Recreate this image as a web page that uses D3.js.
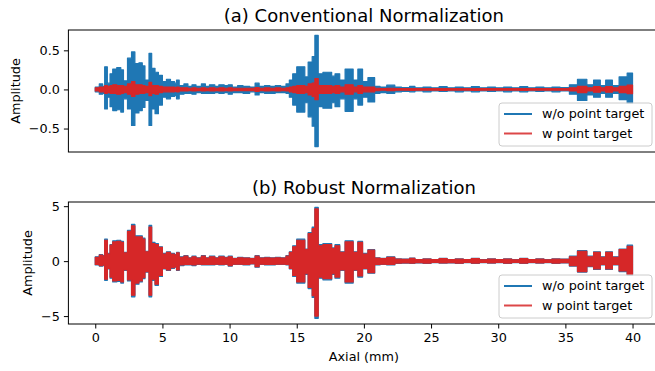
<!DOCTYPE html>
<html>
<head>
<meta charset="utf-8">
<script src="https://cdn.jsdelivr.net/npm/d3@7"></script>
<style>
  body { margin: 0; background: #fff; }
  svg { display: block; font-family: "DejaVu Sans", sans-serif; }
</style>
</head>
<body>
<svg id="chart" width="655" height="371"></svg>
<script>
// axial sample positions (mm), shared by every envelope below
const axial = [
  0, 0.3, 0.55, 0.7, 0.9, 1.1, 1.3, 1.6, 1.9, 2.1,
  2.4, 2.7, 2.95, 3.25, 3.5, 3.7, 4.0, 4.2, 4.45, 4.7,
  5.0, 5.3, 5.6, 5.9, 6.05, 6.25, 6.6, 6.9, 7.2, 7.5,
  7.9, 8.2, 8.5, 8.9, 9.2, 9.6, 9.9, 10.2, 10.6, 11.0,
  11.5, 11.9, 12.2, 12.6, 13.0, 13.4, 13.8, 14.2, 14.45, 14.7,
  15.0, 15.6, 15.85, 16.15, 16.35, 16.6, 16.95, 17.6, 17.85, 18.2,
  18.6, 19.2, 19.55, 19.9, 20.3, 20.8, 21.2, 21.7, 22.3, 22.8,
  23.4, 23.8, 24.4, 25.0, 25.6, 26.2, 26.8, 27.4, 28.0, 28.6,
  29.2, 29.8, 30.4, 31.0, 31.6, 32.2, 32.8, 33.4, 34.0, 34.6,
  35.3, 35.9, 36.6, 37.1, 37.6, 38.0, 38.5, 39.0, 39.6, 40.0
];

// (a) conventional normalization, w/o point target: upper / lower envelope
const convNoTargetHi = [
  0.03, 0.07, 0.04, 0.29, 0.08, 0.20, 0.26, 0.28, 0.25, 0.11,
  0.40, 0.48, 0.33, 0.34, 0.30, 0.12, 0.46, 0.27, 0.22, 0.18,
  0.10, 0.13, 0.10, 0.08, 0.12, 0.05, 0.07, 0.04, 0.06, 0.04,
  0.07, 0.04, 0.06, 0.04, 0.06, 0.05, 0.06, 0.03, 0.05, 0.04,
  0.03, 0.08, 0.04, 0.05, 0.04, 0.05, 0.04, 0.07, 0.12, 0.20,
  0.29, 0.16, 0.35, 0.42, 0.69, 0.20, 0.22, 0.17, 0.20, 0.12,
  0.26, 0.12, 0.26, 0.10, 0.15, 0.04, 0.03, 0.055, 0.03, 0.025,
  0.04, 0.02, 0.03, 0.02, 0.035, 0.02, 0.03, 0.02, 0.035, 0.02,
  0.03, 0.02, 0.03, 0.02, 0.035, 0.02, 0.03, 0.02, 0.03, 0.025,
  0.06, 0.13, 0.06, 0.12, 0.05, 0.12, 0.05, 0.16, 0.21, 0.21
];
const convNoTargetLo = [
  -0.03, -0.06, -0.05, -0.25, -0.10, -0.22, -0.27, -0.26, -0.29, -0.12,
  -0.25, -0.46, -0.30, -0.27, -0.23, -0.14, -0.46, -0.25, -0.31, -0.20,
  -0.10, -0.12, -0.09, -0.08, -0.12, -0.06, -0.05, -0.05, -0.06, -0.04,
  -0.05, -0.05, -0.05, -0.04, -0.05, -0.04, -0.06, -0.04, -0.04, -0.05,
  -0.03, -0.07, -0.04, -0.05, -0.05, -0.04, -0.04, -0.05, -0.10, -0.20,
  -0.29, -0.17, -0.35, -0.47, -0.73, -0.22, -0.24, -0.17, -0.22, -0.12,
  -0.28, -0.12, -0.20, -0.10, -0.16, -0.05, -0.04, -0.05, -0.03, -0.025,
  -0.03, -0.02, -0.03, -0.02, -0.025, -0.02, -0.03, -0.02, -0.03, -0.02,
  -0.025, -0.02, -0.03, -0.02, -0.03, -0.02, -0.025, -0.02, -0.03, -0.02,
  -0.06, -0.14, -0.07, -0.10, -0.05, -0.10, -0.05, -0.13, -0.18, -0.18
];

// (a) conventional normalization, w point target
const convTargetHi = [
  0.02, 0.03, 0.03, 0.05, 0.04, 0.05, 0.06, 0.05, 0.05, 0.04,
  0.07, 0.10, 0.06, 0.06, 0.05, 0.04, 0.09, 0.05, 0.05, 0.04,
  0.03, 0.03, 0.03, 0.025, 0.03, 0.02, 0.02, 0.015, 0.02, 0.015,
  0.02, 0.015, 0.02, 0.015, 0.02, 0.015, 0.02, 0.015, 0.015, 0.015,
  0.015, 0.025, 0.015, 0.02, 0.015, 0.02, 0.015, 0.02, 0.03, 0.04,
  0.05, 0.04, 0.07, 0.08, 0.14, 0.05, 0.05, 0.04, 0.05, 0.03,
  0.06, 0.03, 0.05, 0.03, 0.03, 0.015, 0.01, 0.015, 0.01, 0.01,
  0.012, 0.01, 0.01, 0.01, 0.012, 0.01, 0.01, 0.01, 0.012, 0.01,
  0.01, 0.01, 0.01, 0.01, 0.012, 0.01, 0.01, 0.01, 0.01, 0.01,
  0.02, 0.04, 0.02, 0.035, 0.02, 0.035, 0.02, 0.04, 0.055, 0.055
];
const convTargetLo = [
  -0.02, -0.03, -0.03, -0.05, -0.04, -0.05, -0.05, -0.06, -0.05, -0.04,
  -0.06, -0.09, -0.06, -0.05, -0.05, -0.04, -0.08, -0.05, -0.06, -0.04,
  -0.03, -0.03, -0.03, -0.025, -0.03, -0.02, -0.02, -0.015, -0.02, -0.015,
  -0.02, -0.015, -0.02, -0.015, -0.02, -0.015, -0.02, -0.015, -0.015, -0.015,
  -0.015, -0.025, -0.015, -0.02, -0.015, -0.02, -0.015, -0.02, -0.03, -0.04,
  -0.05, -0.04, -0.07, -0.09, -0.13, -0.05, -0.05, -0.04, -0.05, -0.03,
  -0.06, -0.03, -0.05, -0.03, -0.03, -0.015, -0.01, -0.015, -0.01, -0.01,
  -0.012, -0.01, -0.01, -0.01, -0.012, -0.01, -0.01, -0.01, -0.012, -0.01,
  -0.01, -0.01, -0.01, -0.01, -0.012, -0.01, -0.01, -0.01, -0.01, -0.01,
  -0.02, -0.04, -0.02, -0.035, -0.02, -0.035, -0.02, -0.04, -0.055, -0.055
];

// (b) robust normalization, w/o point target
const robNoTargetHi = [
  0.4, 0.6, 0.5, 2.0, 0.7, 1.5, 1.85, 1.9, 1.8, 0.8,
  2.8, 3.35, 2.3, 2.3, 2.1, 0.9, 3.25, 1.7, 1.6, 1.3,
  0.7, 0.85, 0.7, 0.6, 0.8, 0.4, 0.5, 0.3, 0.45, 0.3,
  0.5, 0.3, 0.45, 0.3, 0.45, 0.35, 0.45, 0.25, 0.35, 0.3,
  0.25, 0.5, 0.3, 0.35, 0.3, 0.35, 0.3, 0.5, 0.85, 1.4,
  2.0, 1.1, 2.6, 3.1, 4.9, 1.5, 1.6, 1.2, 1.5, 0.85,
  1.85, 0.85, 1.8, 0.7, 1.05, 0.3, 0.25, 0.4, 0.2, 0.18,
  0.28, 0.15, 0.2, 0.15, 0.25, 0.15, 0.2, 0.15, 0.25, 0.14,
  0.2, 0.15, 0.2, 0.14, 0.25, 0.15, 0.2, 0.14, 0.2, 0.18,
  0.45, 0.95, 0.45, 0.85, 0.4, 0.85, 0.4, 1.1, 1.45, 1.45
];
const robNoTargetLo = [
  -0.35, -0.45, -0.4, -1.75, -0.7, -1.55, -1.9, -1.85, -2.0, -0.85,
  -1.8, -3.25, -2.1, -1.9, -1.6, -1.0, -3.25, -1.75, -2.2, -1.4,
  -0.7, -0.85, -0.65, -0.55, -0.85, -0.4, -0.35, -0.35, -0.4, -0.3,
  -0.35, -0.35, -0.35, -0.3, -0.35, -0.3, -0.45, -0.3, -0.3, -0.35,
  -0.25, -0.55, -0.3, -0.35, -0.35, -0.3, -0.3, -0.35, -0.7, -1.4,
  -2.0, -1.2, -2.5, -3.3, -5.2, -1.55, -1.7, -1.2, -1.55, -0.85,
  -2.0, -0.85, -1.45, -0.7, -1.1, -0.35, -0.3, -0.35, -0.2, -0.18,
  -0.2, -0.15, -0.2, -0.14, -0.18, -0.15, -0.2, -0.14, -0.2, -0.14,
  -0.18, -0.14, -0.2, -0.14, -0.2, -0.14, -0.18, -0.14, -0.2, -0.15,
  -0.45, -1.0, -0.5, -0.75, -0.35, -0.75, -0.35, -0.95, -1.3, -1.3
];

// (b) robust normalization, w point target
const robTargetHi = [
  0.35, 0.55, 0.45, 1.9, 0.65, 1.45, 1.75, 1.8, 1.7, 0.75,
  2.7, 3.2, 2.2, 2.2, 2.0, 0.85, 3.1, 1.6, 1.5, 1.25,
  0.65, 0.8, 0.65, 0.55, 0.75, 0.35, 0.45, 0.28, 0.4, 0.28,
  0.45, 0.28, 0.4, 0.28, 0.4, 0.3, 0.4, 0.22, 0.3, 0.28,
  0.22, 0.45, 0.28, 0.3, 0.28, 0.3, 0.28, 0.45, 0.8, 1.3,
  1.9, 1.05, 2.5, 2.95, 4.75, 1.4, 1.5, 1.15, 1.4, 0.8,
  1.75, 0.8, 1.7, 0.65, 1.0, 0.28, 0.22, 0.35, 0.18, 0.16,
  0.25, 0.13, 0.18, 0.13, 0.22, 0.13, 0.18, 0.13, 0.22, 0.12,
  0.18, 0.13, 0.18, 0.12, 0.22, 0.13, 0.18, 0.12, 0.18, 0.16,
  0.4, 0.9, 0.4, 0.8, 0.35, 0.8, 0.35, 1.05, 1.35, 1.35
];
const robTargetLo = [
  -0.3, -0.4, -0.35, -1.65, -0.65, -1.45, -1.8, -1.75, -1.9, -0.8,
  -1.7, -3.1, -2.0, -1.8, -1.5, -0.95, -3.1, -1.65, -2.1, -1.3,
  -0.65, -0.8, -0.6, -0.5, -0.8, -0.35, -0.3, -0.3, -0.35, -0.28,
  -0.3, -0.3, -0.3, -0.28, -0.3, -0.28, -0.4, -0.28, -0.28, -0.3,
  -0.22, -0.5, -0.28, -0.3, -0.3, -0.28, -0.28, -0.3, -0.65, -1.3,
  -1.9, -1.15, -2.4, -3.15, -5.0, -1.45, -1.6, -1.15, -1.45, -0.8,
  -1.9, -0.8, -1.35, -0.65, -1.05, -0.3, -0.28, -0.3, -0.18, -0.16,
  -0.18, -0.13, -0.18, -0.12, -0.16, -0.13, -0.18, -0.12, -0.18, -0.12,
  -0.16, -0.12, -0.18, -0.12, -0.18, -0.12, -0.16, -0.12, -0.18, -0.13,
  -0.4, -0.95, -0.45, -0.7, -0.3, -0.7, -0.3, -0.9, -1.2, -1.2
];

const xTicks = [0, 5, 10, 15, 20, 25, 30, 35, 40];
const convYTicks = [-0.5, 0.0, 0.5];
const robYTicks = [-5, 0, 5];
const seriesNames = ['w/o point target', 'w point target'];

const BLUE = '#1f77b4';
const RED = '#d62728';
const FONT = 12.8;

const svg = d3.select('#chart');

const x = d3.scaleLinear().domain([-2, 42]).range([68.4, 659.4]);

const panels = [
  {
    title: '(a) Conventional Normalization',
    top: 30, bottom: 152, domain: [-0.80, 0.76],
    ticks: convYTicks, fmt: d3.format('.1f'), labelX: 16,
    series: [[convNoTargetHi, convNoTargetLo], [convTargetHi, convTargetLo]],
    showX: false
  },
  {
    title: '(b) Robust Normalization',
    top: 202, bottom: 324, domain: [-5.72, 5.38],
    ticks: robYTicks, fmt: d3.format('d'), labelX: 28,
    series: [[robNoTargetHi, robNoTargetLo], [robTargetHi, robTargetLo]],
    showX: true
  }
];

panels.forEach((p, pi) => {
  const y = d3.scaleLinear().domain(p.domain).range([p.bottom, p.top]);
  const g = svg.append('g');
  const clipId = 'clip' + pi;

  svg.append('clipPath').attr('id', clipId)
    .append('rect')
    .attr('x', x.range()[0]).attr('y', p.top)
    .attr('width', x.range()[1] - x.range()[0]).attr('height', p.bottom - p.top);

  // envelope band of the densely oscillating trace
  const area = d3.area()
    .x((d, i) => x(axial[i]))
    .y0(d => y(d[1]))
    .y1(d => y(d[0]))
    .curve(d3.curveStepAfter);

  const marks = g.append('g').attr('clip-path', `url(#${clipId})`);
  p.series.forEach((s, si) => {
    const rows = axial.map((a, i) => [s[0][i], s[1][i]]);
    marks.append('path')
      .datum(rows)
      .attr('d', area)
      .attr('fill', si === 0 ? BLUE : RED)
      .attr('stroke', si === 0 ? BLUE : RED)
      .attr('stroke-width', 1.2)
      .attr('stroke-linejoin', 'round');
  });

  // y axis
  const yAxis = g.append('g')
    .attr('transform', `translate(${x.range()[0]},0)`)
    .call(d3.axisLeft(y).tickValues(p.ticks).tickSize(4.5).tickPadding(4)
      .tickFormat(d => p.fmt(d).replace('-', '\u2212')));
  yAxis.select('.domain').remove();
  yAxis.selectAll('.tick line').attr('stroke', '#000').attr('stroke-width', 1);
  yAxis.selectAll('text').attr('font-size', FONT).attr('fill', '#000')
    .attr('font-family', '"DejaVu Sans", sans-serif');

  if (p.showX) {
    const xAxis = g.append('g')
      .attr('transform', `translate(0,${p.bottom})`)
      .call(d3.axisBottom(x).tickValues(xTicks).tickSize(4.5).tickPadding(4));
    xAxis.select('.domain').remove();
    xAxis.selectAll('.tick line').attr('stroke', '#000').attr('stroke-width', 1);
    xAxis.selectAll('text').attr('font-size', FONT).attr('fill', '#000')
      .attr('font-family', '"DejaVu Sans", sans-serif');
    g.append('text')
      .attr('x', (x.range()[0] + x.range()[1]) / 2).attr('y', 361)
      .attr('text-anchor', 'middle').attr('font-size', FONT)
      .text('Axial (mm)');
  }

  // frame
  g.append('rect')
    .attr('x', x.range()[0]).attr('y', p.top)
    .attr('width', x.range()[1] - x.range()[0]).attr('height', p.bottom - p.top)
    .attr('fill', 'none').attr('stroke', '#000').attr('stroke-width', 1);

  g.append('text')
    .attr('x', (x.range()[0] + x.range()[1]) / 2).attr('y', p.top - 8)
    .attr('text-anchor', 'middle').attr('font-size', 18)
    .text(p.title);

  g.append('text')
    .attr('transform', `translate(${p.labelX},${(p.top + p.bottom) / 2}) rotate(-90)`)
    .attr('text-anchor', 'middle').attr('dy', '0.35em').attr('font-size', FONT)
    .text('Amplitude');

  // legend (lower right)
  const lg = g.append('g').attr('transform', `translate(499,${p.bottom - 49})`);
  lg.append('rect')
    .attr('width', 153).attr('height', 43).attr('rx', 3)
    .attr('fill', '#fff').attr('fill-opacity', 0.8)
    .attr('stroke', '#ccc').attr('stroke-width', 1);
  seriesNames.forEach((name, i) => {
    const ly = 11 + i * 19.5;
    lg.append('line')
      .attr('x1', 5).attr('x2', 33).attr('y1', ly).attr('y2', ly)
      .attr('stroke', i === 0 ? BLUE : RED).attr('stroke-width', 2)
      .attr('stroke-opacity', i === 0 ? 1 : 0.85);
    lg.append('text')
      .attr('x', 43).attr('y', ly).attr('dy', '0.35em')
      .attr('font-size', FONT).text(name);
  });
});
</script>
</body>
</html>
